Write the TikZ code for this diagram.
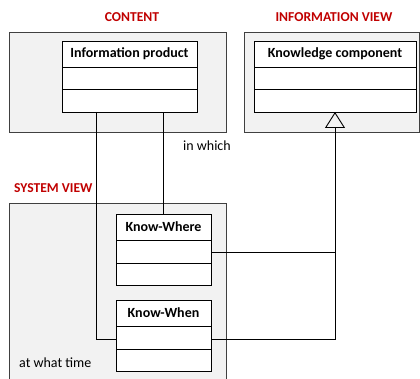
\documentclass[tikz,border=0pt]{standalone}
\usepackage{fontspec}
\setmainfont{Carlito}
\usetikzlibrary{arrows.meta}
\definecolor{pkgred}{HTML}{C00000}
\definecolor{pkgfill}{HTML}{F2F2F2}
\definecolor{pkgline}{HTML}{404040}
\tikzset{
  pkgbox/.style={draw=pkgline, fill=pkgfill, line width=0.8pt},
  pkgtitle/.style={text=pkgred, font=\fontsize{13.6}{15}\selectfont\bfseries, inner sep=0pt},
  clsbox/.style={draw=black, fill=white, line width=0.9pt, anchor=north west, inner sep=0pt, outer sep=0pt},
  clshead/.style={clsbox, font=\fontsize{14}{16}\selectfont\bfseries},
  conn/.style={draw=black, line width=0.9pt},
  lbl/.style={font=\fontsize{14}{16}\selectfont, inner sep=0pt, anchor=west}
}
\begin{document}
\begin{tikzpicture}[x=1pt,y=-1pt]
\useasboundingbox (0,0) rectangle (420,379);
\clip (0,0) rectangle (420,379);
% packages
\node[pkgbox, minimum width=217pt, minimum height=100pt, anchor=north west, inner sep=0pt] (content) at (9,32) {};
\node[pkgbox, minimum width=175pt, minimum height=100pt, anchor=north west, inner sep=0pt] (info) at (244,32) {};
\node[pkgbox, minimum width=217pt, minimum height=190pt, anchor=north west, inner sep=0pt] (system) at (9,203) {};
\node[pkgtitle] (tcontent) at (132,17) {CONTENT};
\node[pkgtitle] (tinfo) at (334,17) {INFORMATION VIEW};
\node[pkgtitle, anchor=west] (tsystem) at (14,188) {SYSTEM VIEW};
% Information product
\node[clshead, minimum width=135pt, minimum height=26pt] (iphead) at (62,41) {Information product};
\node[clsbox, minimum width=135pt, minimum height=22pt] (ipattr) at (iphead.south west) {};
\node[clsbox, minimum width=135pt, minimum height=23pt] (ipops) at (ipattr.south west) {};
% Knowledge component
\node[clshead, minimum width=162pt, minimum height=26pt] (kchead) at (254,41) {Knowledge component};
\node[clsbox, minimum width=162pt, minimum height=22pt] (kcattr) at (kchead.south west) {};
\node[clsbox, minimum width=162pt, minimum height=23pt] (kcops) at (kcattr.south west) {};
% Know-Where
\node[clshead, minimum width=95pt, minimum height=26pt] (kwhead) at (116,214) {Know-Where};
\node[clsbox, minimum width=95pt, minimum height=23pt] (kwattr) at (kwhead.south west) {};
\node[clsbox, minimum width=95pt, minimum height=22pt] (kwops) at (kwattr.south west) {};
% Know-When
\node[clshead, minimum width=95pt, minimum height=26pt] (knhead) at (116,300) {Know-When};
\node[clsbox, minimum width=95pt, minimum height=23pt] (knattr) at (knhead.south west) {};
\node[clsbox, minimum width=95pt, minimum height=22pt] (knops) at (knattr.south west) {};
% connectors
\coordinate (ipleft) at ([xshift=34pt]ipops.south west);
\draw[conn] (ipleft) |- ([yshift=-2pt]knattr.west);
\draw[conn] (kwhead.north) -- (kwhead.north |- ipops.south);
\draw[conn, -{Triangle[open, length=16pt, width=20pt, line width=0.9pt]}] ([yshift=-2pt]knattr.east) -| (kcops.south);
\draw[conn] ([yshift=-1pt]kwattr.east) -- ([yshift=-1pt]kwattr.east -| kcops.south);
% labels
\node[lbl] (inwhich) at (183,146) {in which};
\node[lbl] (atwhat) at (19,363) {at what time};
\end{tikzpicture}
\end{document}
